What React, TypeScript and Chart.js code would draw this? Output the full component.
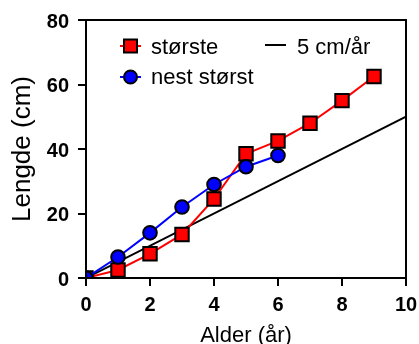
import React, { useEffect, useRef } from "react";
import { Chart, registerables } from "chart.js";

Chart.register(...registerables);

const ages = [0, 1, 2, 3, 4, 5, 6, 7, 8, 9];
const largest = [0, 2.5, 7.5, 13.5, 24.5, 38.5, 42.5, 48, 55, 62.5];
const secondAges = [0, 1, 2, 3, 4, 5, 6];
const second = [0, 6.5, 14, 22, 29, 34.5, 38];
const refAges = [0, 10];
const refLine = [0, 50];
const labelLargest = "største";
const labelSecond = "nest størst";
const labelRef = "5 cm/år";
const xTitle = "Alder (år)";
const yTitle = "Lengde (cm)";

const FONT = "Arial, 'Liberation Sans', sans-serif";

const framePlugin = {
  id: "frameAndLegend",
  afterDraw(chart: any) {
    const { ctx, chartArea: a } = chart;
    ctx.save();
    ctx.strokeStyle = "#000";
    ctx.lineWidth = 2;
    ctx.strokeRect(a.left, a.top, a.right - a.left, a.bottom - a.top);

    // legend
    ctx.font = `22px ${FONT}`;
    ctx.textBaseline = "alphabetic";
    ctx.textAlign = "left";
    // største
    ctx.strokeStyle = "#ff0000";
    ctx.lineWidth = 2;
    ctx.beginPath();
    ctx.moveTo(120, 46);
    ctx.lineTo(141, 46);
    ctx.stroke();
    ctx.fillStyle = "#ff0000";
    ctx.fillRect(124, 39.5, 13, 13);
    ctx.strokeStyle = "#000";
    ctx.strokeRect(124, 39.5, 13, 13);
    ctx.fillStyle = "#000";
    ctx.fillText(labelLargest, 151, 53.5);
    // nest størst
    ctx.strokeStyle = "#0000ff";
    ctx.beginPath();
    ctx.moveTo(120, 77);
    ctx.lineTo(141, 77);
    ctx.stroke();
    ctx.fillStyle = "#0000ff";
    ctx.beginPath();
    ctx.arc(130.5, 77, 6.5, 0, Math.PI * 2);
    ctx.fill();
    ctx.strokeStyle = "#000";
    ctx.stroke();
    ctx.fillStyle = "#000";
    ctx.fillText(labelSecond, 151, 84);
    // 5 cm/år
    ctx.strokeStyle = "#000";
    ctx.beginPath();
    ctx.moveTo(265, 45);
    ctx.lineTo(286, 45);
    ctx.stroke();
    ctx.fillText(labelRef, 297, 53.5);
    ctx.restore();
  },
};

function zeroPad(s: any) {
  s.paddingLeft = 0;
  s.paddingRight = 0;
  s.paddingTop = 0;
  s.paddingBottom = 0;
}

export default function App() {
  const ref = useRef<HTMLCanvasElement>(null);
  useEffect(() => {
    document.body.style.margin = "0";
    const chart = new Chart(ref.current!, {
      type: "line",
      data: {
        datasets: [
          {
            label: labelSecond,
            data: secondAges.map((x, i) => ({ x, y: second[i] })),
            borderColor: "#0000ff",
            backgroundColor: "#0000ff",
            borderWidth: 2,
            pointStyle: "circle",
            pointRadius: 6.8,
            pointBorderColor: "#000",
            pointBackgroundColor: "#0000ff",
            pointBorderWidth: 2,
            tension: 0,
            order: 0,
          },
          {
            label: labelLargest,
            data: ages.map((x, i) => ({ x, y: largest[i] })),
            borderColor: "#ff0000",
            backgroundColor: "#ff0000",
            borderWidth: 2,
            pointStyle: "rect",
            pointRadius: 9.5,
            pointBorderColor: "#000",
            pointBackgroundColor: "#ff0000",
            pointBorderWidth: 2,
            tension: 0,
            order: 1,
          },
          {
            label: labelRef,
            data: refAges.map((x, i) => ({ x, y: refLine[i] })),
            borderColor: "#000",
            borderWidth: 2,
            pointRadius: 0,
            tension: 0,
            order: 2,
          },
        ],
      },
      options: {
        animation: false,
        responsive: false,
        devicePixelRatio: 1,
        layout: { padding: { top: 20, right: 13, left: 0, bottom: 0 } },
        plugins: { legend: { display: false }, tooltip: { enabled: false } },
        scales: {
          x: {
            type: "linear",
            min: 0,
            max: 10,
            ticks: {
              stepSize: 2,
              color: "#000",
              font: { family: FONT, size: 20, weight: "bold" },
              padding: 7,
            },
            grid: {
              drawOnChartArea: false,
              tickLength: 8,
              color: "#000",
              lineWidth: 2,
            },
            border: { display: true, color: "#000", width: 2 },
            title: {
              display: true,
              text: xTitle,
              color: "#000",
              font: { family: FONT, size: 22, lineHeight: 1 },
              padding: { top: 0, bottom: -3 },
            },
            afterFit: (s: any) => {
              s.height = 66;
              zeroPad(s);
            },
          },
          y: {
            type: "linear",
            min: 0,
            max: 80,
            ticks: {
              stepSize: 20,
              color: "#000",
              font: { family: FONT, size: 20, weight: "bold" },
              padding: 9,
              labelOffset: 2,
            },
            grid: {
              drawOnChartArea: false,
              tickLength: 8,
              color: "#000",
              lineWidth: 2,
            },
            border: { display: true, color: "#000", width: 2 },
            title: {
              display: true,
              text: yTitle,
              color: "#000",
              font: { family: FONT, size: 26, lineHeight: 1 },
              padding: { top: 10, bottom: 0 },
            },
            afterFit: (s: any) => {
              s.width = 86;
              zeroPad(s);
            },
          },
        },
      } as any,
      plugins: [framePlugin],
    });
    return () => chart.destroy();
  }, []);
  return (
    <div style={{ position: "fixed", left: 0, top: 0, width: 419, height: 344 }}>
      <canvas ref={ref} width={419} height={344} />
    </div>
  );
}
